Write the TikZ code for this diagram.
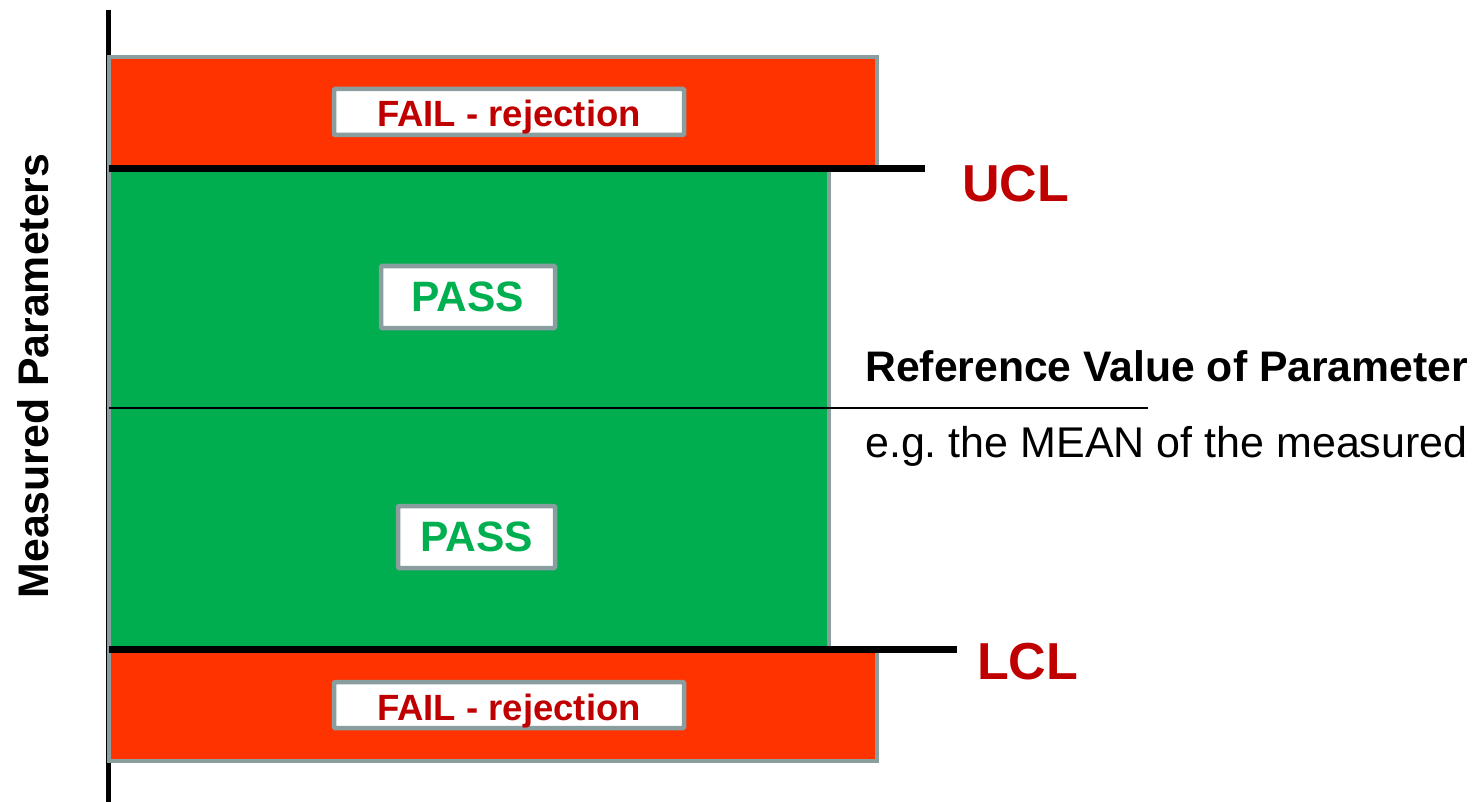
\documentclass[tikz,border=0pt]{standalone}
\usepackage{fontspec}
\setmainfont{Liberation Sans}
\definecolor{bordergray}{RGB}{138,158,160}
\definecolor{failred}{RGB}{255,51,0}
\definecolor{passgreen}{RGB}{0,173,79}
\definecolor{darkred}{RGB}{192,0,0}
\definecolor{textgreen}{RGB}{0,176,80}
\tikzset{
  zone/.style={draw=bordergray, line width=4.5pt},
  labelbox/.style={draw=bordergray, fill=white, line width=4.5pt, inner sep=0pt, rounded corners=1pt},
  failtext/.style={text=darkred, font=\fontsize{36.5}{44}\selectfont\bfseries, anchor=base, inner sep=0pt},
  passtext/.style={text=textgreen, font=\fontsize{42.5}{50}\selectfont\bfseries},
  limtext/.style={text=darkred, font=\fontsize{52}{60}\selectfont\bfseries, anchor=west, inner sep=0pt},
  limline/.style={line width=7pt, black},
}
\begin{document}
\frenchspacing
\begin{tikzpicture}[x=1pt,y=-1pt]
\useasboundingbox (0,0) rectangle (1482,802);
% axis
\coordinate (axtop) at (108,10);
\coordinate (axbot) at (108,802);
\draw[line width=5pt] (axtop) -- (axbot);
% zones
\path[zone, fill=failred] (109,57) rectangle (877,167);
\path[zone, fill=failred] (109,650) rectangle (877,761);
\path[zone, fill=passgreen] (109,168) rectangle (829,648);
% labels in boxes
\node[labelbox, minimum width=350pt, minimum height=46pt] (f1) at (509,112) {};
\node[failtext] at (509,127) {FAIL - rejection};
\node[labelbox, minimum width=350pt, minimum height=46pt] (f2) at (509,705) {};
\node[failtext] at (509,720) {FAIL - rejection};
\node[labelbox, minimum width=174pt, minimum height=62pt] (p1) at (468,297) {};
\node[passtext] at (p1.center) {PASS};
\node[labelbox, minimum width=157pt, minimum height=62pt] (p2) at (476.5,537) {};
\node[passtext] at (p2.center) {PASS};
% limit lines
\coordinate (u1) at (109,169);
\coordinate (u2) at (925,169);
\coordinate (l1) at (109,649);
\coordinate (l2) at (957,649);
\draw[limline] (u1) -- (u2);
\draw[limline] (l1) -- (l2);
\node[limtext] (ucl) at (962,184) {UCL};
\node[limtext] (lcl) at (977,662) {LCL};
% reference line
\coordinate (m1) at (109,408);
\coordinate (m2) at (1148,408);
\draw[line width=1.8pt] (m1) -- (m2);
\node[anchor=west, inner sep=0pt, font=\fontsize{42.7}{50}\selectfont\bfseries] (ref) at (865,366) {Reference Value of Parameter};
\node[anchor=west, inner sep=0pt, font=\fontsize{43}{50}\selectfont] (eg) at (865,446) {e.g. the MEAN of the measured};
% axis label
\node[rotate=90, inner sep=0pt, font=\fontsize{42.8}{50}\selectfont\bfseries] (ax) at (33,376) {Measured Parameters};
\end{tikzpicture}
\end{document}
